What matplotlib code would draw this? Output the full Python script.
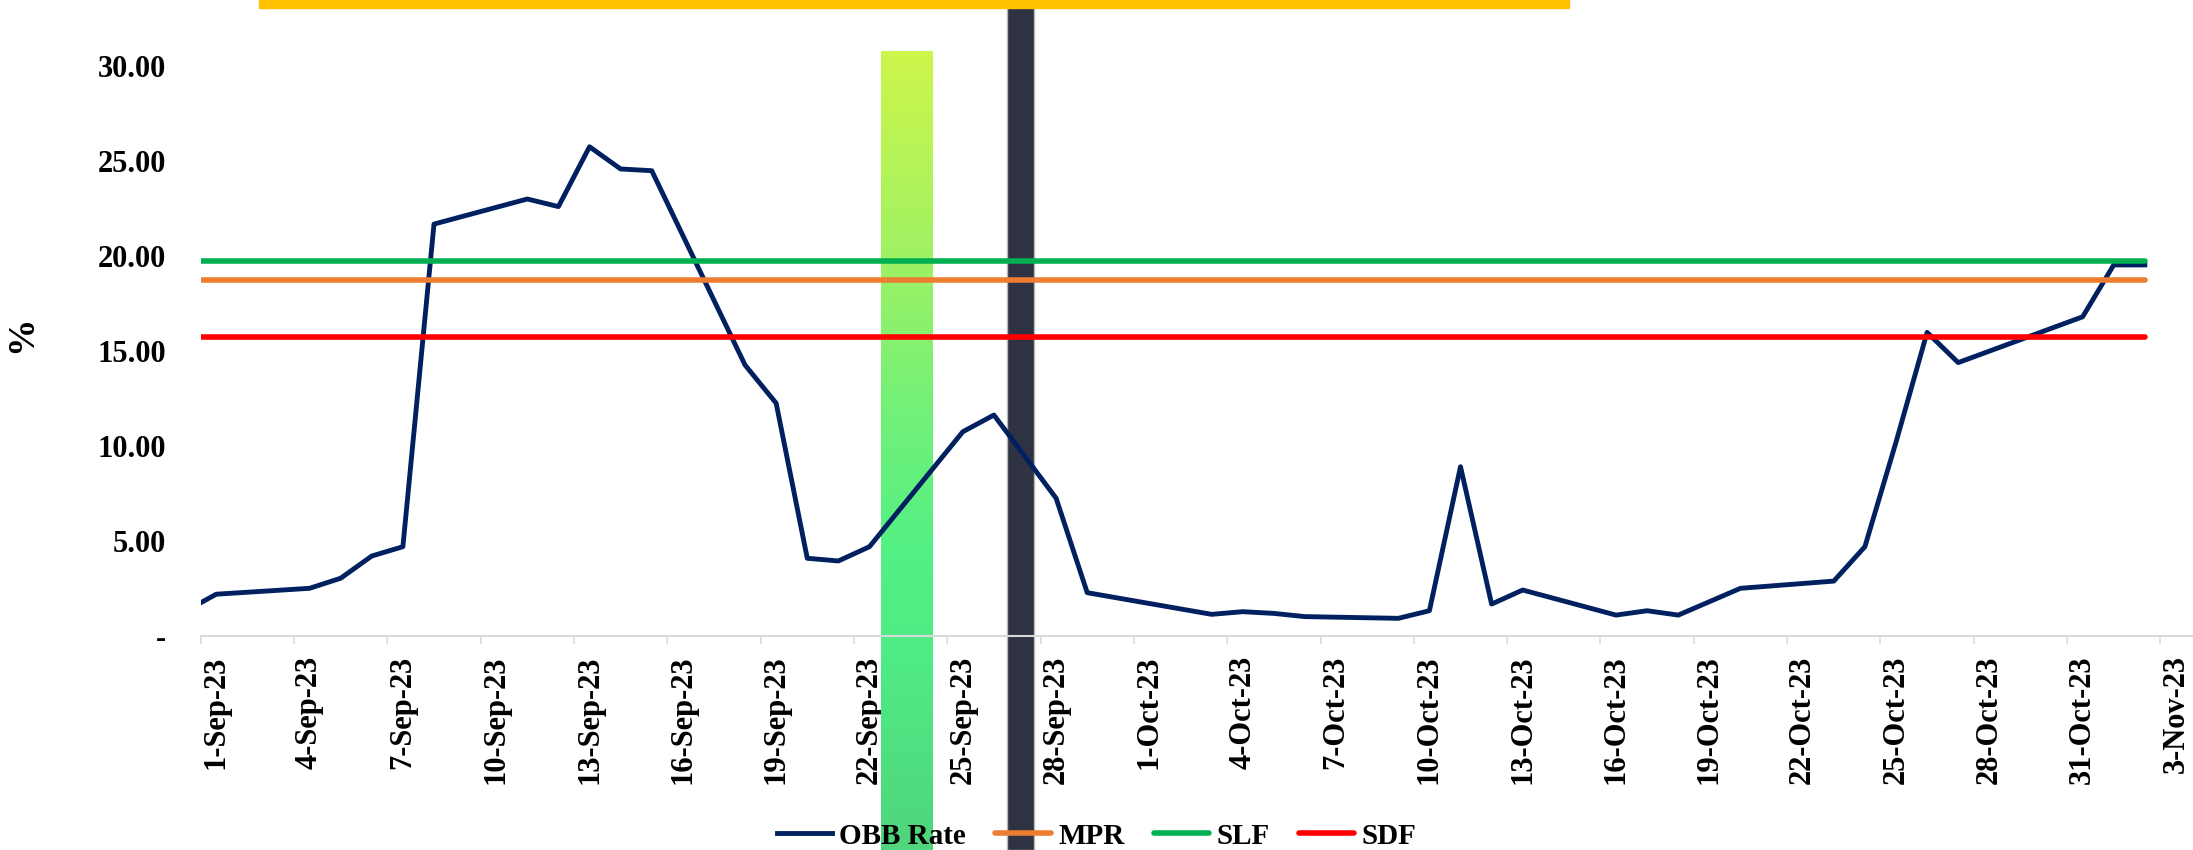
import matplotlib.pyplot as plt
import matplotlib.transforms as mtransforms
from matplotlib.patches import Rectangle
from matplotlib.colors import LinearSegmentedColormap
import numpy as np
import pandas as pd

plt.rcParams['font.family'] = ['Liberation Serif', 'DejaVu Serif']
plt.rcParams['font.weight'] = 'bold'

# overnight (OBB) rate, business days only
dates = pd.to_datetime([
    '2023-08-31', '2023-09-01', '2023-09-04', '2023-09-05', '2023-09-06',
    '2023-09-07', '2023-09-08', '2023-09-11', '2023-09-12', '2023-09-13',
    '2023-09-14', '2023-09-15', '2023-09-18', '2023-09-19', '2023-09-20',
    '2023-09-21', '2023-09-22', '2023-09-25', '2023-09-26', '2023-09-28',
    '2023-09-29', '2023-10-03', '2023-10-04', '2023-10-05', '2023-10-06',
    '2023-10-09', '2023-10-10', '2023-10-11', '2023-10-12', '2023-10-13',
    '2023-10-16', '2023-10-17', '2023-10-18', '2023-10-20', '2023-10-23',
    '2023-10-24', '2023-10-25', '2023-10-26', '2023-10-27', '2023-10-31',
    '2023-11-01', '2023-11-02',
])
obb_rate = [
    1.30, 2.20, 2.51, 3.04, 4.21,
    4.70, 21.68, 23.00, 22.60, 25.75,
    24.58, 24.49, 14.26, 12.25, 4.09,
    3.95, 4.70, 10.75, 11.63, 7.25,
    2.28, 1.14, 1.28, 1.19, 1.02,
    0.93, 1.33, 8.91, 1.68, 2.42,
    1.10, 1.33, 1.10, 2.51, 2.89,
    4.70, 10.20, 15.98, 14.39, 16.80,
    19.53, 19.53,
]
mpr = [18.75] * len(dates)
slf = [19.75] * len(dates)
sdf = [15.75] * len(dates)

start = pd.Timestamp('2023-09-01')
tick_dates = pd.date_range(start, periods=22, freq='3D')
tick_labels = [f"{d.day}-{d:%b-%y}" for d in tick_dates]
y_ticks = [0, 5, 10, 15, 20, 25, 30]
y_labels = ['-' if v == 0 else f'{v:.2f}' for v in y_ticks]

# highlighted windows, in days from 1 Sep
green_span = (21.87, 23.54)
dark_span = (25.92, 26.79)

W, H = 2193, 850
fig = plt.figure(figsize=(W / 100, H / 100), dpi=100)
ax = fig.add_axes([200.7 / W, 214 / H, (2191.5 - 200.7) / W, 636.5 / H])

x = (dates - start).days.values + 0.5

ax.plot(x, obb_rate, color='#002060', lw=3.5, label='OBB Rate', zorder=2.0)
ax.plot(x, mpr, color='#ED7D31', lw=4, label='MPR', solid_capstyle='round', zorder=2.1)
ax.plot(x, slf, color='#00B050', lw=4, label='SLF', solid_capstyle='round', zorder=2.2)
ax.plot(x, sdf, color='#FF0000', lw=4, label='SDF', solid_capstyle='round', zorder=2.3)

trans = mtransforms.blended_transform_factory(ax.transData, fig.transFigure)

grad = LinearSegmentedColormap.from_list('bar', [
    (0.0, '#CDF54B'), (0.24, '#A2F262'), (0.43, '#76F076'),
    (0.63, '#53F085'), (0.75, '#4FEC86'), (1.0, '#4FD57C')])
ax.imshow(np.linspace(0, 1, 256).reshape(-1, 1), cmap=grad, aspect='auto',
          extent=(green_span[0], green_span[1], 0, 1 - 51 / H),
          transform=trans, clip_on=False, zorder=1.8, interpolation='bilinear')
ax.add_patch(Rectangle((dark_span[0], 0), dark_span[1] - dark_span[0], 1,
                       transform=trans, facecolor='#2F3242', edgecolor='#B8B8B8',
                       lw=1, clip_on=False, zorder=1.8))

fig.add_artist(Rectangle((259 / W, 1 - 8 / H), (1569 - 259) / W, 8 / H,
                         transform=fig.transFigure, color='#FFC000', zorder=3))

ax.set_xlim(0, 64)
ax.set_ylim(0, 33.5)

for side in ['left', 'top', 'right']:
    ax.spines[side].set_visible(False)
ax.spines['bottom'].set_color('#D9D9D9')
ax.spines['bottom'].set_linewidth(1.5)

ax.set_xticks(np.arange(0, 64, 3))
ax.set_xticklabels([])
ax.set_xticks(np.arange(0, 64, 3) + 0.5, tick_labels, minor=True)
ax.tick_params(axis='x', which='major', length=6, width=1.1, color='#D9D9D9')
ax.tick_params(axis='x', which='minor', length=0, pad=14, labelsize=22, rotation=90)

ax.set_yticks(y_ticks, y_labels)
ax.tick_params(axis='y', length=0, pad=25, labelsize=22)

fig.text(22 / W, 1 - 334 / H, '%', rotation=90, fontsize=27,
         ha='center', va='center', fontweight='bold')

fig.legend(loc='center', bbox_to_anchor=(0.5, 1 - 836 / H), ncol=4, frameon=False,
           fontsize=21, handlelength=1.9, handletextpad=0.25, columnspacing=1.0)

fig.savefig('out.png', dpi=100)
